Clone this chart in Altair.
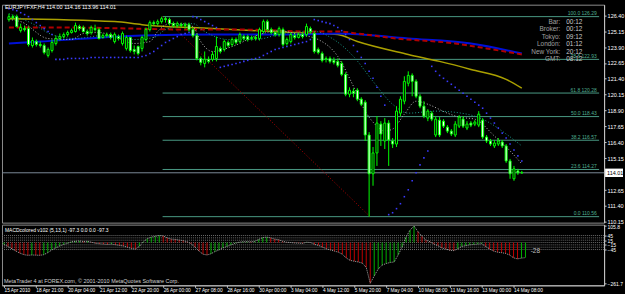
import altair as alt
import pandas as pd

FONT = "Liberation Sans"

# ---------------- data ----------------
O = [126.06,126.29,126.29,125.19,125.35,125.35,124.02,124.33,124.10,124.02,
     123.24,123.63,124.18,124.57,124.72,124.88,125.04,125.12,125.51,125.43,
     125.12,125.04,125.35,125.27,124.65,124.80,124.88,124.33,124.72,124.18,
     123.79,124.65,123.71,123.94,123.79,124.49,125.27,125.82,125.74,125.90,
     126.13,126.06,125.74,125.59,125.66,125.59,125.66,125.27,124.80,123.00,
     122.61,122.93,122.93,123.00,123.79,123.71,124.26,124.10,124.49,124.33,
     124.72,124.72,124.57,124.65,124.57,125.12,125.90,125.27,125.04,124.88,
     125.27,124.18,124.33,124.80,124.65,124.88,124.88,125.35,124.96,123.71,
     123.39,122.93,123.00,122.85,122.77,122.61,121.75,120.19,120.42,120.50,
     119.80,119.56,116.98,113.93,115.57,117.84,116.51,117.92,116.51,116.27,
     118.70,119.64,121.05,121.67,121.20,120.03,119.25,118.31,118.70,116.98,
     118.15,118.07,117.60,117.29,116.98,117.68,118.23,117.53,117.92,117.84,
     117.76,118.15,116.82,116.51,116.12,116.27,116.43,116.12,114.94,113.54,
     114.16,114.00]
H = [126.52,126.45,126.45,125.74,125.59,125.51,124.65,124.49,124.33,124.18,
     123.86,124.49,124.80,124.96,125.04,125.19,125.35,125.82,125.66,125.59,
     125.27,125.59,125.66,125.43,124.96,125.04,125.04,125.04,124.88,125.12,
     124.80,124.72,124.02,124.02,124.80,125.43,125.98,125.98,126.06,126.29,
     126.29,126.21,125.90,125.90,125.82,125.82,125.82,125.43,124.96,123.16,
     123.55,123.16,123.55,124.72,123.94,124.49,124.41,124.65,124.65,125.04,
     124.88,124.88,124.80,124.80,125.43,126.06,126.06,125.43,125.19,125.51,
     125.43,124.65,125.04,124.96,125.04,125.04,125.74,125.51,125.12,123.86,
     123.55,123.16,123.16,123.08,123.00,122.77,121.91,120.73,120.66,120.66,
     119.95,119.72,117.21,116.04,118.47,118.07,118.31,118.15,116.74,119.25,
     120.03,121.60,121.99,121.83,121.36,120.19,119.64,119.01,118.86,118.47,
     118.39,118.23,117.76,117.45,118.07,118.54,118.47,118.07,118.07,118.15,
     118.86,118.31,116.98,116.67,116.59,116.74,116.59,116.27,115.10,114.55,
     114.32,114.16]
L = [125.90,126.06,125.43,125.04,125.12,123.94,123.86,123.94,123.86,123.32,
     123.08,123.47,124.02,124.41,124.57,124.72,124.96,125.04,125.19,125.04,
     124.80,124.88,125.12,124.49,124.57,124.65,124.49,124.18,124.41,124.02,
     123.63,123.47,123.32,123.24,123.55,124.33,125.12,125.59,125.59,125.74,
     125.82,125.59,125.43,125.43,125.43,125.35,125.12,124.65,122.85,122.46,
     122.30,122.61,122.77,122.77,123.39,123.55,123.86,123.94,124.10,124.18,
     124.41,124.33,124.41,124.41,124.41,124.96,125.12,124.88,124.72,124.72,
     123.94,124.02,124.18,124.49,124.57,124.57,124.72,124.96,123.39,123.32,
     122.69,122.69,122.61,122.53,122.30,121.60,120.03,119.95,119.95,119.64,
     119.25,116.51,110.56,112.99,114.55,116.12,115.88,114.55,115.96,116.04,
     118.47,119.40,120.81,120.03,119.87,119.09,118.31,118.07,118.07,116.82,
     116.82,117.53,117.13,116.90,116.82,117.53,117.53,117.37,117.60,117.68,
     117.60,116.67,116.35,116.12,115.96,116.12,115.96,114.79,113.54,113.38,
     113.85,113.96]
C = [126.29,126.21,125.51,125.43,125.27,124.10,124.41,124.10,124.02,123.47,
     123.71,124.26,124.57,124.72,124.88,125.04,125.19,125.59,125.35,125.12,
     124.96,125.43,125.27,124.57,124.80,124.88,124.65,124.88,124.57,124.96,
     124.65,123.63,123.55,123.39,124.65,125.27,125.82,125.74,125.90,126.13,
     126.06,125.74,125.59,125.74,125.59,125.66,125.27,124.80,123.00,122.69,
     122.93,122.77,123.32,123.94,123.55,124.33,124.02,124.49,124.26,124.88,
     124.57,124.49,124.65,124.57,125.27,125.90,125.27,125.04,124.88,125.35,
     124.10,124.49,124.88,124.65,124.88,124.72,125.51,125.12,123.55,123.47,
     122.85,123.00,122.77,122.69,122.46,121.75,120.19,120.50,120.27,119.80,
     119.40,116.98,113.93,115.57,117.92,117.06,117.92,116.59,116.27,118.86,
     119.80,121.20,121.67,121.20,120.03,119.25,118.47,118.86,118.23,118.23,
     116.98,117.68,117.29,117.06,117.84,118.39,117.68,117.84,117.76,118.00,
     118.62,116.82,116.51,116.27,116.35,116.51,116.12,114.94,113.93,114.32,
     114.01,114.01]
SAR = [126.92,126.84,126.76,126.60,126.45,126.29,126.06,125.82,125.59,125.35,
       125.12,124.88,122.93,122.93,122.93,123.00,123.00,123.00,123.00,123.00,
       123.00,123.08,123.08,123.08,123.08,123.08,123.08,123.08,123.08,123.08,
       123.08,123.08,123.08,123.08,123.16,123.24,123.39,123.55,123.79,124.02,
       124.26,124.41,124.57,124.72,124.88,124.96,125.04,126.29,126.21,126.06,
       125.90,125.74,125.59,125.43,122.30,122.38,122.46,122.53,122.61,122.69,
       122.77,122.85,122.93,123.00,123.08,123.24,123.39,123.55,123.71,123.79,
       123.86,123.94,124.02,124.10,124.18,124.26,124.33,124.49,126.06,125.98,
       125.90,125.82,125.74,125.59,125.43,125.19,124.88,124.49,124.02,123.55,
       123.08,122.61,121.99,121.44,120.73,120.03,119.33,110.72,110.87,111.19,
       111.58,112.13,112.67,113.38,114.01,114.63,115.18,115.73,122.38,121.99,
       121.67,121.44,121.20,120.97,120.73,120.50,120.27,120.03,119.80,119.56,
       119.33,119.09,118.70,118.31,117.92,117.53,117.13,116.74,116.27,115.80,
       115.34,114.94]
MACD = [-13,-25,-40,-55,-68,-78,-82,-80,-81,-82,
        -78,-65,-48,-35,-22,-12,-5,5,8,10,
        6,8,2,-5,-8,-10,-12,-10,-14,-18,
        -22,-30,-38,-42,-25,5,25,35,40,45,
        42,30,22,20,16,12,5,-8,-30,-55,
        -75,-80,-72,-58,-48,-35,-25,-15,-6,2,
        5,6,5,8,20,32,35,30,22,18,
        8,2,0,-3,-4,-6,2,0,-12,-18,
        -30,-40,-48,-55,-62,-75,-100,-115,-120,-125,
        -132,-160,-261.7,-215,-170,-145,-135,-128,-125,-80,
        -30,35,80,105.8,70,40,15,5,-10,-20,
        -35,-42,-50,-52,-40,-25,-20,-15,-12,-10,
        -8,-25,-42,-55,-62,-65,-70,-80,-98,-105,
        -100,-97.3]

yellow_i = [0, 27, 34, 52, 78, 84, 89, 102, 110, 118, 127, 131]
yellow_p = [126.13, 125.90, 125.66, 125.35, 124.96, 124.88, 124.33, 123.32, 122.77, 122.14, 121.36, 120.66]
red_i = [0, 14, 49, 60, 77, 84, 89, 99, 114, 122, 131]
red_p = [125.43, 125.43, 125.27, 125.27, 125.12, 125.12, 124.96, 124.57, 124.18, 123.79, 123.32]
blue_i = [0, 8, 24, 34, 52, 74, 84, 102, 118, 131]
blue_p = [124.18, 124.33, 124.65, 124.80, 124.88, 124.88, 124.96, 124.57, 124.18, 123.39]
gray_i = [0, 3, 10, 16, 19, 23, 27, 32, 36, 38, 41, 44, 47, 49, 52, 57, 64, 69, 74, 79,
          84, 88, 91, 94, 96, 98, 101, 104, 107, 112, 115, 119, 124, 128, 131]
gray_p = [126.06, 125.90, 124.57, 124.49, 124.96, 125.04, 124.72, 124.18, 124.33, 125.12,
          125.74, 125.74, 125.51, 124.33, 123.55, 123.94, 124.88, 125.19, 124.88, 124.49,
          123.16, 120.81, 118.86, 117.68, 117.29, 117.45, 118.62, 119.64, 119.40, 118.70,
          118.39, 118.23, 116.90, 115.73, 114.71]
teal_i = [0, 6, 11, 17, 24, 32, 37, 40, 47, 50, 56, 63, 70, 78, 83, 88, 93, 98, 102, 109,
          117, 122, 127, 131]
teal_p = [126.52, 125.74, 124.88, 124.57, 124.80, 124.49, 124.65, 125.27, 125.74, 125.12,
          124.49, 124.49, 124.96, 125.12, 124.49, 123.16, 121.20, 119.40, 118.70, 118.86,
          118.62, 118.07, 117.06, 116.12]

fib_levels = [100.0, 78.6, 61.8, 50.0, 38.2, 23.6, 0.0]
fib_prices = [126.29, 122.93, 120.28, 118.43, 116.57, 114.27, 110.56]
fib_anchor_i = [39.25, 92.25]
fib_anchor_p = [126.29, 110.56]

price_ticks = [110.15, 111.40, 112.65, 115.15, 116.40, 117.65, 118.90, 120.15,
               121.40, 122.65, 123.90, 125.15, 126.40]
last_price = [114.01]
title_text = "EURJPYFXF,H4  114.00 114.16 113.96 114.01"
clock_names = ["Bar:", "Broker:", "Tokyo:", "London:", "New York:", "GMT:"]
clock_values = ["00:12", "00:12", "09:12", "01:12", "20:12", "08:12"]
time_labels = ["15 Apr 2010", "18 Apr 21:00", "20 Apr 04:00", "21 Apr 12:00", "22 Apr 20:00",
               "26 Apr 00:00", "27 Apr 08:00", "28 Apr 16:00", "30 Apr 00:00", "3 May 04:00",
               "4 May 12:00", "5 May 20:00", "7 May 04:00", "10 May 08:00", "11 May 16:00",
               "13 May 00:00", "14 May 08:00"]
macd_levels = [45, 30, 15, 0, -15, -30, -45]
macd_axis_values = [105.8, 45, 15, -15, -45, -261.7]
macd_title = "MACDcolored v102 (5,13,1) -97.3 0.0 0.0 -97.3"
macd_note = ["-28"]
copyright_text = "MetaTrader 4 at FOREX.com, \u00a9 2001-2010 MetaQuotes Software Corp."

# ---------------- tables ----------------
n = len(C)
bars = pd.DataFrame({"i": list(range(n)), "o": O, "h": H, "l": L, "c": C})
bars["dir"] = ["down" if c < o else "up" for o, c in zip(O, C)]
sar = pd.DataFrame({"i": list(range(n)), "p": SAR})
hist = pd.DataFrame({"i": list(range(n)), "v": MACD})
hist["zero"] = 0.0
hist["col"] = ["up"] + ["up" if MACD[k] >= MACD[k - 1] else "down" for k in range(1, n)]

def line_df(ii, pp):
    return pd.DataFrame({"i": ii, "p": pp})

fib = pd.DataFrame({"p": fib_prices,
                    "lab": [f"{a:.1f} {b:.2f}" for a, b in zip(fib_levels, fib_prices)]})
XMAX = 150.75
fib["s"] = fib_anchor_i[0]
fib["e"] = XMAX
fib["lx"] = XMAX - 0.6
box = pd.DataFrame({"p": last_price, "lab": [f"{v:.2f}" for v in last_price]})
box["t"] = box["p"] + 0.33
box["b"] = box["p"] - 0.33

# ---------------- scales / axes ----------------
W, MAIN_H, SUB_H = 605, 219, 61
xs = alt.Scale(domain=[-0.5, XMAX], nice=False, zero=False)
ys = alt.Scale(domain=[110.09, 127.23], nice=False, zero=False)
yax = alt.Axis(orient="right", values=price_ticks, format=".2f", title=None, grid=False,
               labelFont=FONT, labelFontSize=5.5, labelColor="#ffffff", tickSize=2,
               labelPadding=1, domainColor="#c8c8c8", tickColor="#c8c8c8")

def X(f):
    return alt.X(f, type="quantitative", scale=xs, axis=None)

def Y(f):
    return alt.Y(f, type="quantitative", scale=ys, axis=yax)

layers = []
layers.append(alt.Chart(fib).mark_rule(color="#4a9a84", strokeWidth=1).encode(
    x=X("s"), x2="e", y=Y("p")))
layers.append(alt.Chart(box).mark_rule(color="#7b8896", strokeWidth=1).encode(y=Y("p")))
layers.append(alt.Chart(line_df(fib_anchor_i, fib_anchor_p)).mark_line(
    color="#b00000", strokeDash=[1, 2], strokeWidth=1).encode(x=X("i"), y=Y("p")))
layers.append(alt.Chart(line_df(yellow_i, yellow_p)).mark_line(
    color="#aaa000", strokeWidth=1.5, interpolate="monotone").encode(x=X("i"), y=Y("p")))
layers.append(alt.Chart(line_df(blue_i, blue_p)).mark_line(
    color="#0010d8", strokeWidth=2, interpolate="monotone").encode(x=X("i"), y=Y("p")))
layers.append(alt.Chart(line_df(red_i, red_p)).mark_line(
    color="#b00000", strokeWidth=2, strokeDash=[5, 3], interpolate="monotone").encode(x=X("i"), y=Y("p")))
layers.append(alt.Chart(line_df(teal_i, teal_p)).mark_line(
    color="#1a9a8a", strokeWidth=1, strokeDash=[1, 2], interpolate="monotone").encode(x=X("i"), y=Y("p")))
layers.append(alt.Chart(line_df(gray_i, gray_p)).mark_line(
    color="#b8b8b8", strokeWidth=1, strokeDash=[1, 2], interpolate="monotone").encode(x=X("i"), y=Y("p")))
layers.append(alt.Chart(sar).mark_square(size=2.5, color="#3a3aff", opacity=1).encode(
    x=X("i"), y=Y("p")))
layers.append(alt.Chart(bars).mark_rule(color="#00ff00", strokeWidth=1).encode(
    x=X("i"), y=Y("l"), y2="h"))
layers.append(alt.Chart(bars).mark_bar(size=2, stroke="#00ff00", strokeWidth=1).encode(
    x=X("i"), y=Y("o"), y2="c",
    fill=alt.Fill("dir:N", scale=alt.Scale(domain=["down", "up"], range=["#ffffff", "#000000"]),
                  legend=None)))
layers.append(alt.Chart(fib).mark_text(font=FONT, fontSize=5, color="#4fae90", align="right",
                                       baseline="bottom", dy=-0.5).encode(
    x=X("lx"), y=Y("p"), text="lab"))
layers.append(alt.Chart(box).mark_rect(color="#ffffff").encode(
    x=alt.value(W + 1), x2=alt.value(W + 19), y=Y("t"), y2="b"))
layers.append(alt.Chart(box).mark_text(font=FONT, fontSize=5.5, color="#000000", align="left",
                                       baseline="middle").encode(
    x=alt.value(W + 3), y=Y("p"), text="lab"))
layers.append(alt.Chart(bars.head(1)).mark_text(font=FONT, fontSize=5.5, color="#ffffff",
                                                 align="left", baseline="middle",
                                                 text=title_text).encode(
    x=alt.value(3), y=alt.value(2.5)))
for k, (nm, vl) in enumerate(zip(clock_names, clock_values)):
    yy = 17 + 7.6 * k
    layers.append(alt.Chart(bars.head(1)).mark_text(font=FONT, fontSize=6.5, color="#a0a0a0",
                                                     align="right", baseline="middle",
                                                     text=nm).encode(
        x=alt.value(561), y=alt.value(yy)))
    layers.append(alt.Chart(bars.head(1)).mark_text(font=FONT, fontSize=6.5, color="#c8c8c8",
                                                     align="left", baseline="middle",
                                                     text=vl).encode(
        x=alt.value(567), y=alt.value(yy)))

main = alt.layer(*layers).properties(width=W, height=MAIN_H)

# ---------------- sub panel ----------------
sys_ = alt.Scale(domain=[-275, 115], nice=False, zero=False)
syax = alt.Axis(orient="right", values=macd_axis_values, title=None, grid=False,
                labelExpr="abs(datum.value) > 100 ? format(datum.value, '.1f') : format(datum.value, 'd')",
                labelFont=FONT, labelFontSize=5, labelColor="#ffffff", tickSize=2,
                labelPadding=1, labelOverlap=False, domainColor="#c8c8c8", tickColor="#c8c8c8")
label_expr = "[" + ",".join("'" + t + "'" for t in time_labels) + "][round(datum.value/8)]"
xax = alt.Axis(orient="bottom", values=list(range(0, 8 * len(time_labels), 8)), labelExpr=label_expr,
               title=None, grid=False, labelFont=FONT, labelFontSize=4.8, labelColor="#ffffff",
               labelAlign="left", labelBaseline="top", labelPadding=0, tickSize=2,
               domainColor="#c8c8c8", tickColor="#c8c8c8", labelOverlap=False)

def SX(f):
    return alt.X(f, type="quantitative", scale=xs, axis=xax)

def SY(f):
    return alt.Y(f, type="quantitative", scale=sys_, axis=syax)

lv = pd.DataFrame({"v": macd_levels})
note = pd.DataFrame({"i": [132.3], "v": [-55.0], "t": macd_note})
sub = alt.layer(
    alt.Chart(lv).mark_rule(color="#6e6e6e", strokeDash=[1, 1], strokeWidth=1).encode(y=SY("v")),
    alt.Chart(hist).mark_rule(strokeWidth=1).encode(
        x=SX("i"), y=SY("zero"), y2="v",
        color=alt.Color("col:N", scale=alt.Scale(domain=["up", "down"], range=["#00b000", "#c00000"]),
                        legend=None)),
    alt.Chart(hist).mark_line(color="#a8a8a8", strokeDash=[1, 1], strokeWidth=1).encode(
        x=SX("i"), y=SY("v")),
    alt.Chart(note).mark_text(font=FONT, fontSize=6.5, color="#c0c0c0", align="left",
                              baseline="middle").encode(x=SX("i"), y=SY("v"), text="t"),
    alt.Chart(hist.head(1)).mark_text(font=FONT, fontSize=5, color="#ffffff", align="left",
                                      baseline="middle", text=macd_title).encode(
        x=alt.value(3), y=alt.value(5)),
    alt.Chart(hist.head(1)).mark_text(font=FONT, fontSize=5.5, color="#d0d0d0", align="left",
                                      baseline="middle", text=copyright_text).encode(
        x=alt.value(2), y=alt.value(57)),
).properties(width=W, height=SUB_H)

chart = alt.vconcat(main, sub, spacing=2, bounds="flush").properties(
    background="#000000",
    padding={"left": 1, "top": 3, "right": 0, "bottom": 0},
).configure_view(stroke="#8c8c8c", strokeWidth=1, fill="#000000")

chart.save("out.html", embed_options={"renderer": "svg", "actions": False})
